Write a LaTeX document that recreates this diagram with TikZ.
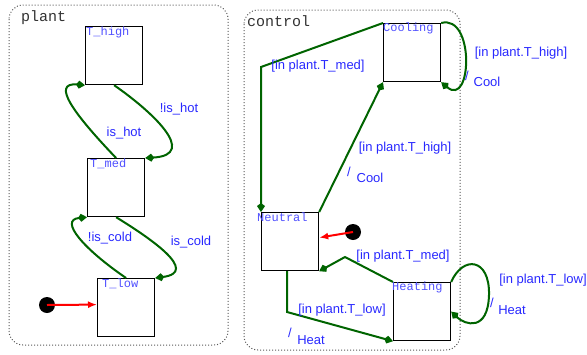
\documentclass[tikz,border=0pt]{standalone}
\usepackage{fontspec}
\setmainfont{Liberation Sans}
\newfontfamily\monof{Liberation Mono}
\usetikzlibrary{arrows.meta}
\definecolor{lblue}{RGB}{40,40,255}
\definecolor{sblue}{RGB}{80,80,255}
\definecolor{tgreen}{RGB}{0,100,0}
\definecolor{cgray}{RGB}{50,50,50}
\begin{document}
\begin{tikzpicture}[x=1pt,y=-1pt,
  container/.style={draw=black!65, dotted, line width=1pt, rounded corners=14pt},
  cname/.style={text=cgray, font=\monof\fontsize{15}{15}\selectfont, anchor=base west, inner sep=0pt},
  state/.style={draw=black, line width=1.2pt, minimum width=57pt, minimum height=58pt, inner sep=0pt, anchor=north west},
  sname/.style={text=sblue, font=\monof\fontsize{12}{12}\selectfont, anchor=base west, inner sep=0pt},
  trans/.style={draw=tgreen, line width=2pt, -{Kite[length=9pt,width=8pt,inset=3pt]}},
  init/.style={draw=red, line width=2pt, -{Latex[length=9pt,width=7pt]}},
  dot/.style={fill=black, circle, minimum size=16pt, inner sep=0pt},
  lbl/.style={text=lblue, font=\fontsize{13}{15}\selectfont, inner sep=0pt}
]
\useasboundingbox (0,0) rectangle (587,354);

% containers
\draw[container] (9,5) rectangle (228,345);
\draw[container] (244,10) rectangle (460,350);
\node[cname] (plantname) at (21,21) {plant};
\node[cname] (controlname) at (247,26) {control};

% plant states
\node[state] (Thigh) at (85,26) {};
\node[state] (Tmed) at (87,158) {};
\node[state] (Tlow) at (97,278) {};
\node[sname] (Thighl) at (86,35) {T\_high};
\node[sname] (Tmedl) at (90,167) {T\_med};
\node[sname] (Tlowl) at (102,287) {T\_low};
\node[dot] (pinit) at (47,305) {};

% control states
\node[state] (Cooling) at (383,23) {};
\node[state] (Neutral) at (261,212) {};
\node[state] (Heating) at (393,282) {};
\node[sname] (Coolingl) at (383,31) {Cooling};
\node[sname] (Neutrall) at (257,221) {Neutral};
\node[sname] (Heatingl) at (392,290) {Heating};
\node[dot] (cinit) at (353,232) {};

% plant transitions
\draw[trans] (Tmed.north) .. controls (75,115) and (50,82) .. (Thigh.south west);
\draw[trans] (Thigh.south) .. controls (150,110) and (200,155) .. (Tmed.north east);
\draw[trans] (Tlow.north) .. controls (85,250) and (58,220) .. (Tmed.south west);
\draw[trans] (Tmed.south) .. controls (150,238) and (200,272) .. (Tlow.north east);
\draw[init] (pinit.center) -- ([yshift=3pt]Tlow.west);

% control transitions
\coordinate (c1) at (261,67);
\draw[trans] (Cooling.north west) -- (c1) -- (Neutral.north west);
\draw[trans] (Neutral.north east) -- (Cooling.south west);
\draw[trans] (Cooling.north east) .. controls (475,14) and (472,108) .. (Cooling.south east);
\coordinate (c2) at (287,312);
\draw[trans] (Neutral.south -| c2) -- (c2) -- (Heating.south west);
\coordinate (c3) at (345,257);
\draw[trans] (Heating.north west) -- (c3) -- (Neutral.south east);
\coordinate (h1) at (489,295);
\draw[trans] (Heating.north east) .. controls (463,255) and (490,258) .. (h1) .. controls (488,332) and (465,325) .. (Heating.east);
\draw[init] (cinit.center) -- ([yshift=4pt]Neutral.east);

% plant labels
\node[lbl] (l1) at (124,133) {is\_hot};
\node[lbl] (l2) at (179,109) {!is\_hot};
\node[lbl] (l3) at (110,238) {!is\_cold};
\node[lbl] (l4) at (191,242) {is\_cold};

% control labels
\node[lbl] (m1) at (318,66) {[in plant.T\_med]};
\node[lbl] (m2) at (405,148) {[in plant.T\_high]};
\node[lbl] (m2s) at (349,172) {/};
\node[lbl] (m2a) at (370,178) {Cool};
\node[lbl] (m3) at (521,53) {[in plant.T\_high]};
\node[lbl] (m3s) at (467,76) {/};
\node[lbl] (m3a) at (487,82) {Cool};
\node[lbl] (m4) at (342,310) {[in plant.T\_low]};
\node[lbl] (m4s) at (290,333) {/};
\node[lbl] (m4a) at (311,340) {Heat};
\node[lbl] (m5) at (403,256) {[in plant.T\_med]};
\node[lbl] (m6) at (543,280) {[in plant.T\_low]};
\node[lbl] (m6s) at (492,303) {/};
\node[lbl] (m6a) at (512,310) {Heat};
\end{tikzpicture}
\end{document}
